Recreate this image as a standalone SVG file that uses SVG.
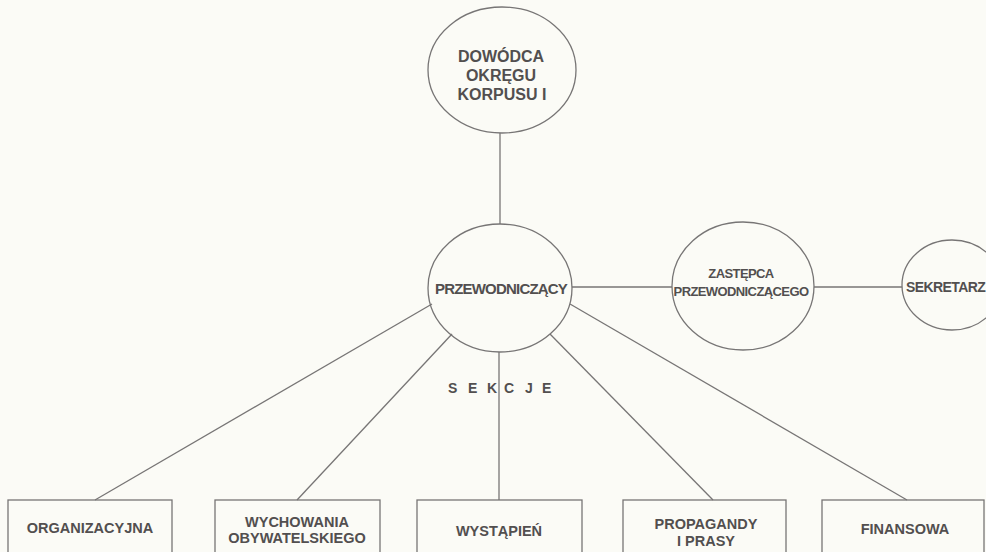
<svg xmlns="http://www.w3.org/2000/svg" width="986" height="552" viewBox="0 0 986 552">
<style>
.bg{fill:#fbfbf6}
.shape{fill:none;stroke:#777575;stroke-width:1.3}
.conn line{stroke:#777575;stroke-width:1.3}
text{font-family:"Liberation Sans",Arial,sans-serif;font-weight:bold;fill:#524f4f}
.big{font-size:16px;text-anchor:middle}
.mid{font-size:15px;text-anchor:middle;letter-spacing:-0.8px}
.sm{font-size:13px;text-anchor:middle;letter-spacing:-0.6px}
.box{font-size:14.5px;text-anchor:middle}
</style>
<rect class="bg" x="0" y="0" width="986" height="552"/>
<g class="conn" id="connectors">
<line x1="500" y1="133" x2="500" y2="224"/>
<line x1="572" y1="287" x2="672" y2="287"/>
<line x1="814" y1="287" x2="902" y2="287"/>
<line x1="432" y1="304" x2="95" y2="500"/>
<line x1="452" y1="334" x2="297" y2="500"/>
<line x1="499" y1="352" x2="499" y2="500"/>
<line x1="550" y1="334" x2="713" y2="500"/>
<line x1="570" y1="304" x2="907" y2="500"/>
</g>
<g id="dowodca">
<ellipse class="shape" cx="502" cy="70" rx="74" ry="63"/>
<text class="big" x="501" y="62">DOWÓDCA</text>
<text class="big" x="501" y="81">OKRĘGU</text>
<text class="big" x="502" y="100">KORPUSU I</text>
</g>
<g id="przewodniczacy">
<ellipse class="shape" cx="500" cy="288" rx="72" ry="64"/>
<text class="mid" x="501" y="294">PRZEWODNICZĄCY</text>
</g>
<g id="zastepca">
<ellipse class="shape" cx="743" cy="286" rx="71" ry="64"/>
<text class="sm" x="741" y="278">ZASTĘPCA</text>
<text class="sm" x="741" y="296">PRZEWODNICZĄCEGO</text>
</g>
<g id="sekretarz">
<ellipse class="shape" cx="952" cy="285" rx="50" ry="45"/>
<text x="906" y="292" style="font-size:14px;letter-spacing:-0.6px">SEKRETARZ</text>
</g>
<g id="sekcje">
<text x="448 468 487 504 525 542" y="393" style="font-size:14px">SEKCJE</text>
</g>
<g id="organizacyjna">
<rect class="shape" x="8" y="500" width="164" height="70"/>
<text class="box" x="90" y="533">ORGANIZACYJNA</text>
</g>
<g id="wychowania">
<rect class="shape" x="215" y="500" width="165" height="70"/>
<text class="box" x="297" y="527">WYCHOWANIA</text>
<text class="box" x="297" y="543">OBYWATELSKIEGO</text>
</g>
<g id="wystapien">
<rect class="shape" x="417" y="500" width="165" height="70"/>
<text class="box" x="499" y="536">WYSTĄPIEŃ</text>
</g>
<g id="propagandy">
<rect class="shape" x="623" y="500" width="163" height="70"/>
<text class="box" x="706" y="529">PROPAGANDY</text>
<text class="box" x="706" y="546">I PRASY</text>
</g>
<g id="finansowa">
<rect class="shape" x="822" y="500" width="162" height="70"/>
<text class="box" x="905" y="534">FINANSOWA</text>
</g>
</svg>
